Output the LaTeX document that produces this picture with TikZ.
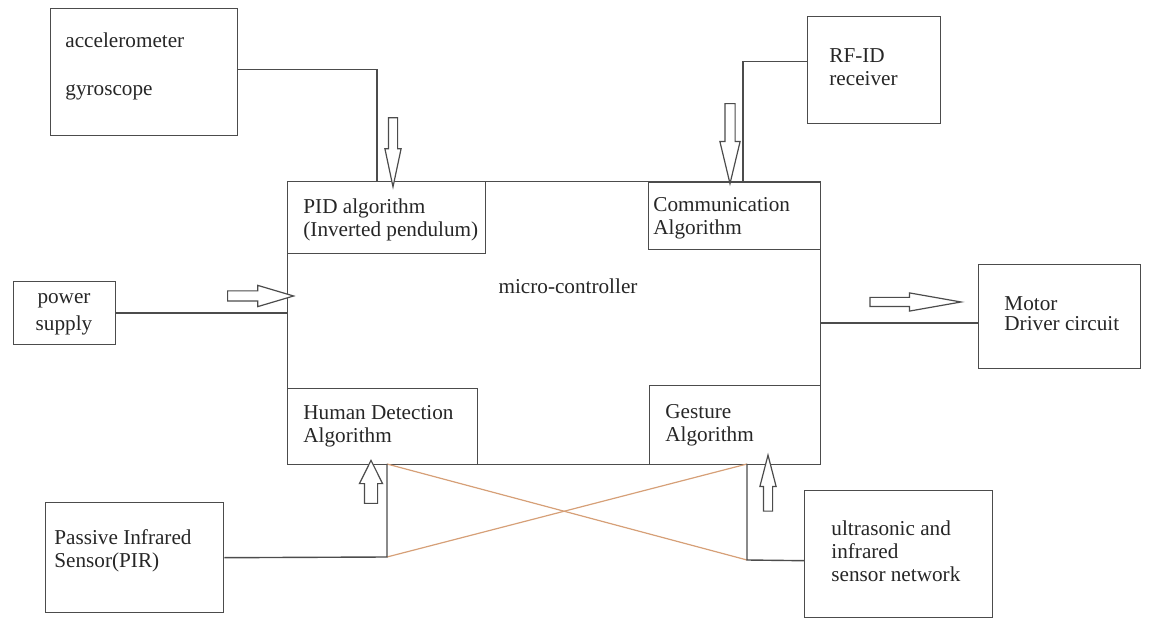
\documentclass[tikz,border=0pt]{standalone}
\usepackage{fontspec}
\setmainfont{Liberation Serif}
\usetikzlibrary{shapes.arrows}
\definecolor{wireOrange}{RGB}{214,160,120}

\begin{document}
\begin{tikzpicture}[x=0.5pt, y={(0pt,-0.5pt)},
font=\fontsize{10.6}{11.5}\selectfont,
rectBox/.style={rectangle, draw=black!70, line width=0.7pt, anchor=north west, inner sep=0pt},
rectText/.style={anchor=west, align=left, inner sep=0pt, text=black!85},
rectWire/.style={draw=black!70, line width=0.7pt},
rectCross/.style={draw=wireOrange, line width=0.6pt},
hollowArr/.style n args={4}{single arrow, draw=black!70, line width=0.6pt, fill=white, inner xsep=0pt, inner ysep=#2, single arrow head extend=#3, single arrow tip angle=#4, minimum height=#1}]

\useasboundingbox (0,0) rectangle (1150,619);

\node[rectBox, minimum width=266.5pt, minimum height=141.5pt] (main) at (287,181) {};
\node[rectBox, minimum width=99pt, minimum height=36pt] (pid) at (287,181) {};
\node[rectBox, minimum width=86pt, minimum height=33.5pt] (comm) at (648,182) {};
\node[rectBox, minimum width=95pt, minimum height=38pt] (human) at (287,388) {};
\node[rectBox, minimum width=85.5pt, minimum height=39.5pt] (gesture) at (649,385) {};

\node[rectBox, minimum width=93.5pt, minimum height=63.5pt] (acc) at (50,8) {};
\node[rectBox, minimum width=66.5pt, minimum height=53.5pt] (rfid) at (807,16) {};
\node[rectBox, minimum width=51pt, minimum height=31.5pt] (power) at (13,281) {};
\node[rectBox, minimum width=81pt, minimum height=52pt] (motor) at (978,264) {};
\node[rectBox, minimum width=89pt, minimum height=55pt] (pir) at (45,502) {};
\node[rectBox, minimum width=94pt, minimum height=63.5pt] (ultra) at (804,490) {};

\node[rectText, anchor=center] (mainText) at (568,286) {micro-controller};
\node[rectText] (pidText) at (303,219.5) {PID algorithm\\(Inverted pendulum)};
\node[rectText] (commText) at (653,218.5) {Communication\\Algorithm};
\node[rectText] (humanText) at (303,426) {Human Detection\\Algorithm};
\node[rectText] (gestureText) at (665,425) {Gesture\\Algorithm};
\node[rectText] (accText) at (65,66) {accelerometer\\[12.5pt]gyroscope};
\node[rectText] (rfidText) at (829,67.5) {RF-ID\\receiver};
\node[rectText, anchor=center, align=center] (powerText) at (64,314) {power\\[2pt]supply};
\node[rectText] (motorText) at (1004,314) {Motor\\[-1.5pt]Driver circuit};
\node[rectText] (pirText) at (54,550.5) {Passive Infrared\\Sensor(PIR)};
\node[rectText] (ultraText) at (831,551) {ultrasonic and\\infrared\\sensor network};

\coordinate (accIn) at (377,181);
\coordinate (rfidIn) at (743,181);
\coordinate (pirCorner) at (387,557);
\coordinate (pirIn) at (387,464);
\coordinate (ultraCorner) at (747,560);
\coordinate (ultraIn) at (747,464);

\draw[rectCross] (pirIn) -- (ultraCorner);
\draw[rectCross] (pirCorner) -- (ultraIn);

\draw[rectWire] ([yshift=1.25pt]acc.east) -| (accIn);
\draw[rectWire] ([yshift=4.25pt]rfid.west) -| (rfidIn);
\draw[rectWire] (power.east) -- (power.east -| main.west);
\draw[rectWire] (main.east) -- (main.east -| motor.west);
\draw[rectWire] (pir.east) -- (pirCorner) -- (pirIn);
\draw[rectWire] ([yshift=-3.25pt]ultra.west) -- (ultraCorner) -- (ultraIn);

\node[hollowArr={34.5pt}{2pt}{1.75pt}{24}, rotate=-90] (accArr) at (393,141.5) {};
\node[hollowArr={40pt}{2.25pt}{2.5pt}{27}, rotate=-90] (rfidArr) at (730,133) {};
\node[hollowArr={33pt}{2.25pt}{2.75pt}{33}] (powerArr) at (252,296) {};
\node[hollowArr={45.5pt}{2pt}{2.25pt}{20}] (motorArr) at (902.5,302) {};
\node[hollowArr={21.5pt}{3pt}{2.5pt}{53}, rotate=90] (pirArr) at (371,488.5) {};
\node[hollowArr={28pt}{2pt}{1.75pt}{29}, rotate=90] (gestureArr) at (768,492) {};

\end{tikzpicture}
\end{document}
